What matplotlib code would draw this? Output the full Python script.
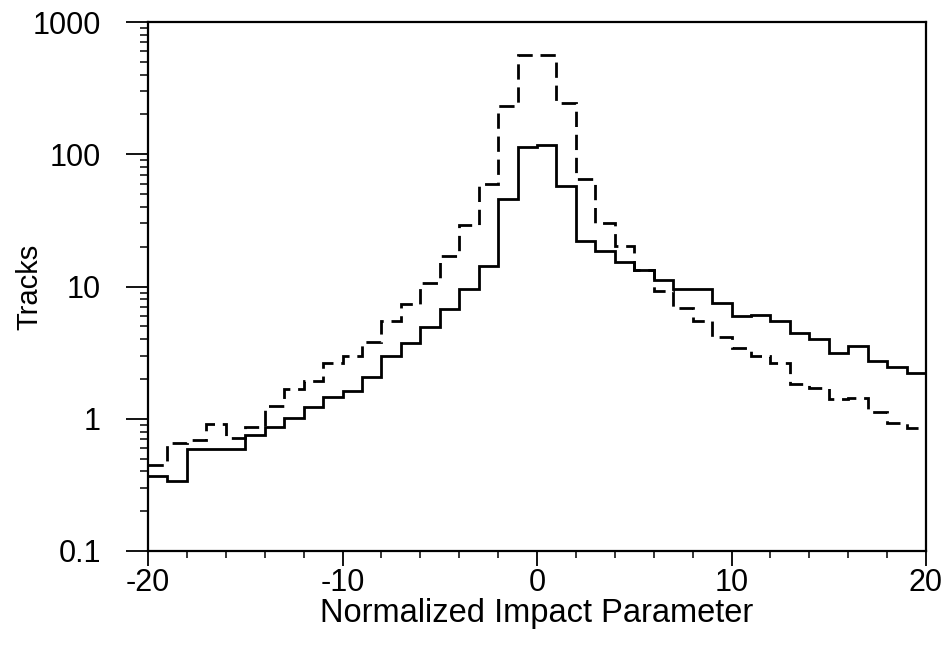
import numpy as np
import matplotlib
matplotlib.use("Agg")
import matplotlib.pyplot as plt
from matplotlib.ticker import LogLocator, FixedLocator, NullFormatter

plt.rcParams['font.family'] = ['Liberation Sans', 'DejaVu Sans']

# bin edges of the histograms (unit width from -20 to 20)
bordes = np.arange(-20, 21)

# solid histogram, one value per bin
continua = [0.37, 0.34, 0.59, 0.59, 0.59, 0.76, 0.87, 1.02, 1.22, 1.45,
            1.61, 2.07, 2.97, 3.73, 4.93, 6.8, 9.5, 14.2, 45.6, 113,
            118, 58, 22, 18.5, 15.3, 13.3, 11.2, 9.5, 9.5, 7.5,
            6.0, 6.1, 5.5, 4.45, 4.0, 3.12, 3.57, 2.75, 2.45, 2.2]

# dashed histogram
discontinua = [0.45, 0.66, 0.69, 0.91, 0.72, 0.87, 1.25, 1.69, 1.94, 2.62,
               2.98, 3.82, 5.46, 7.35, 10.7, 17.1, 29.4, 60, 232, 562,
               562, 242, 64.7, 30.2, 20.3, 13.4, 9.3, 6.9, 5.5, 4.13,
               3.44, 3.0, 2.65, 1.82, 1.72, 1.41, 1.43, 1.12, 0.93, 0.85]

ticks_x = [-20, -10, 0, 10, 20]
ticks_y = [0.1, 1, 10, 100, 1000]
etiquetas_y = ["0.1", "1", "10", "100", "1000"]

fig = plt.figure(figsize=(9.48, 6.48), dpi=100)
ax = fig.add_axes([148/948, 1 - 551/648, (926 - 148)/948, (551 - 22)/648])

# baseline=None: no vertical drop at the outer edges
ax.stairs(continua, bordes, baseline=None, color="black", lw=2.0)
ax.stairs(discontinua, bordes, baseline=None, color="black", lw=2.0,
          linestyle=(0, (5.5, 2.8)))

ax.set_yscale("log")
ax.set_xlim(-20, 20)
ax.set_ylim(0.1, 1000)

ax.set_xticks(ticks_x)
ax.set_xticklabels([str(t) for t in ticks_x])
ax.xaxis.set_minor_locator(FixedLocator(np.arange(-20, 21, 2)))
ax.set_yticks(ticks_y)
ax.set_yticklabels(etiquetas_y)
ax.yaxis.set_minor_locator(LogLocator(base=10, subs=np.arange(2, 10)))
ax.yaxis.set_minor_formatter(NullFormatter())

for lado in ax.spines.values():
    lado.set_linewidth(1.6)

ax.tick_params(which="major", direction="out", width=1.3, labelsize=22)
ax.tick_params(which="minor", direction="out", width=1.1)
ax.tick_params(axis="x", which="major", length=11, pad=1)
ax.tick_params(axis="x", which="minor", length=5)
ax.tick_params(axis="y", which="major", length=16, pad=18)
ax.tick_params(axis="y", which="minor", length=6)

ax.set_xlabel("Normalized Impact Parameter", fontsize=23.5, labelpad=0)
ax.set_ylabel("Tracks", fontsize=21)
ax.yaxis.set_label_coords(-0.134, 0.5)

fig.savefig("out.png", dpi=100)
